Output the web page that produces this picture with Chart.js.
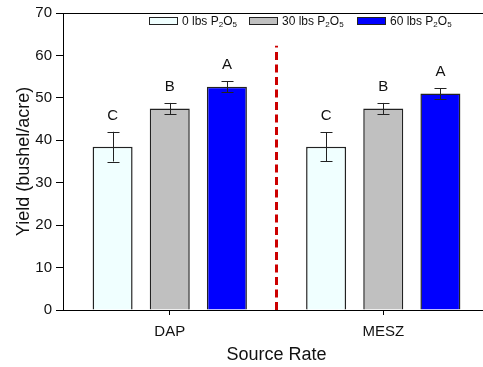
<!DOCTYPE html>
<html>
<head>
<meta charset="utf-8">
<script src="https://cdn.jsdelivr.net/npm/chart.js@4.4.1/dist/chart.umd.min.js"></script>
<style>
  html, body { margin: 0; padding: 0; overflow: hidden; background: #fff; }
  #wrap { width: 490px; height: 367px; }
</style>
</head>
<body>
<div id="wrap"><canvas id="yield" width="490" height="367"></canvas></div>
<script>
const sources = ['DAP', 'MESZ'];
const rates = ['0', '30', '60'];
const yield0 = [38.5, 38.5];
const yield30 = [47.5, 47.5];
const yield60 = [52.6, 51.0];
const err0 = [3.5, 3.4];
const err30 = [1.3, 1.3];
const err60 = [1.3, 1.3];
const letters0 = ['C', 'C'];
const letters30 = ['B', 'B'];
const letters60 = ['A', 'A'];
const yTicks = [0, 10, 20, 30, 40, 50, 60, 70];

const fills = ['#F0FFFF', '#C0C0C0', '#0000FF'];
const FONT = '"Liberation Sans", Arial, sans-serif';

const errs = [err0, err30, err60];
const letters = [letters0, letters30, letters60];

// error bars, letters, top frame line, divider and legend
const extras = {
  id: 'extras',
  afterDatasetsDraw(chart) {
    const ctx = chart.ctx;
    const y = chart.scales.y;
    const x = chart.scales.x;
    const area = chart.chartArea;
    ctx.save();

    chart.data.datasets.forEach((ds, i) => {
      const meta = chart.getDatasetMeta(i);
      meta.data.forEach((bar, j) => {
        const v = ds.data[j];
        const e = errs[i][j];
        const top = y.getPixelForValue(v + e);
        const bot = y.getPixelForValue(v - e);
        const cx = Math.round(bar.x) + 0.5;
        ctx.strokeStyle = '#222';
        ctx.lineWidth = 1;
        ctx.beginPath();
        ctx.moveTo(cx, top); ctx.lineTo(cx, bot);
        ctx.moveTo(cx - 6, Math.round(top) + 0.5); ctx.lineTo(cx + 6, Math.round(top) + 0.5);
        ctx.moveTo(cx - 6, Math.round(bot) + 0.5); ctx.lineTo(cx + 6, Math.round(bot) + 0.5);
        ctx.stroke();

        ctx.fillStyle = '#111';
        ctx.font = '15px ' + FONT;
        ctx.textAlign = 'center';
        ctx.textBaseline = 'middle';
        ctx.fillText(letters[i][j], bar.x, top - 16);
      });
    });

    // top frame line
    ctx.strokeStyle = '#000';
    ctx.lineWidth = 1;
    ctx.beginPath();
    ctx.moveTo(area.left, Math.round(area.top) + 0.5);
    ctx.lineTo(area.right, Math.round(area.top) + 0.5);
    ctx.stroke();

    // red divider between sources
    const mx = (x.getPixelForValue(0) + x.getPixelForValue(1)) / 2;
    ctx.strokeStyle = '#CC0000';
    ctx.lineWidth = 3;
    ctx.setLineDash([8, 4.5]);
    ctx.beginPath();
    ctx.moveTo(mx, area.bottom);
    ctx.lineTo(mx, y.getPixelForValue(62.3));
    ctx.stroke();
    ctx.setLineDash([]);

    // legend
    const boxX = [149, 249, 357];
    ctx.textAlign = 'left';
    ctx.textBaseline = 'alphabetic';
    rates.forEach((r, i) => {
      ctx.fillStyle = fills[i];
      ctx.fillRect(boxX[i], 17, 28, 7);
      ctx.strokeStyle = '#222';
      ctx.lineWidth = 1;
      ctx.strokeRect(boxX[i] + 0.5, 17.5, 28, 7);
      let tx = boxX[i] + 33;
      const base = 25;
      ctx.fillStyle = '#111';
      ctx.font = '12px ' + FONT;
      const main = r + ' lbs P';
      ctx.fillText(main, tx, base);
      tx += ctx.measureText(main).width;
      ctx.font = '8px ' + FONT;
      ctx.fillText('2', tx, base + 2);
      tx += ctx.measureText('2').width;
      ctx.font = '12px ' + FONT;
      ctx.fillText('O', tx, base);
      tx += ctx.measureText('O').width;
      ctx.font = '8px ' + FONT;
      ctx.fillText('5', tx, base + 2);
    });

    ctx.restore();
  }
};

const series = [yield0, yield30, yield60];

new Chart(document.getElementById('yield'), {
  type: 'bar',
  data: {
    labels: sources,
    datasets: series.map((d, i) => ({
      label: rates[i] + ' lbs P2O5',
      data: d,
      backgroundColor: fills[i],
      borderColor: '#222',
      borderWidth: 1.5,
      categoryPercentage: 0.803,
      barPercentage: 0.7
    }))
  },
  options: {
    responsive: false,
    animation: false,
    layout: { padding: { top: 12, left: 0, right: 0, bottom: 0 } },
    plugins: {
      legend: { display: false },
      tooltip: { enabled: false }
    },
    scales: {
      x: {
        afterFit(scale) { scale.height = 57; },
        grid: { drawOnChartArea: false, offset: false, tickLength: 5, color: '#000' },
        border: { color: '#000', width: 1 },
        ticks: { color: '#111', font: { family: FONT, size: 15 }, padding: 8 },
        title: { display: true, text: 'Source Rate', color: '#111',
                 font: { family: FONT, size: 18 }, padding: { top: 0, bottom: 1 } }
      },
      y: {
        min: 0,
        max: 70,
        afterFit(scale) { scale.width = 63; },
        afterBuildTicks(scale) { scale.ticks = yTicks.map(v => ({ value: v })); },
        grid: { drawOnChartArea: false, tickLength: 7, color: '#000' },
        border: { color: '#000', width: 1 },
        ticks: { color: '#111', font: { family: FONT, size: 15 }, padding: 4 },
        title: { display: true, text: 'Yield (bushel/acre)', color: '#111',
                 font: { family: FONT, size: 18 }, padding: { top: 13, bottom: 0 } }
      }
    }
  },
  plugins: [extras]
});
</script>
</body>
</html>
